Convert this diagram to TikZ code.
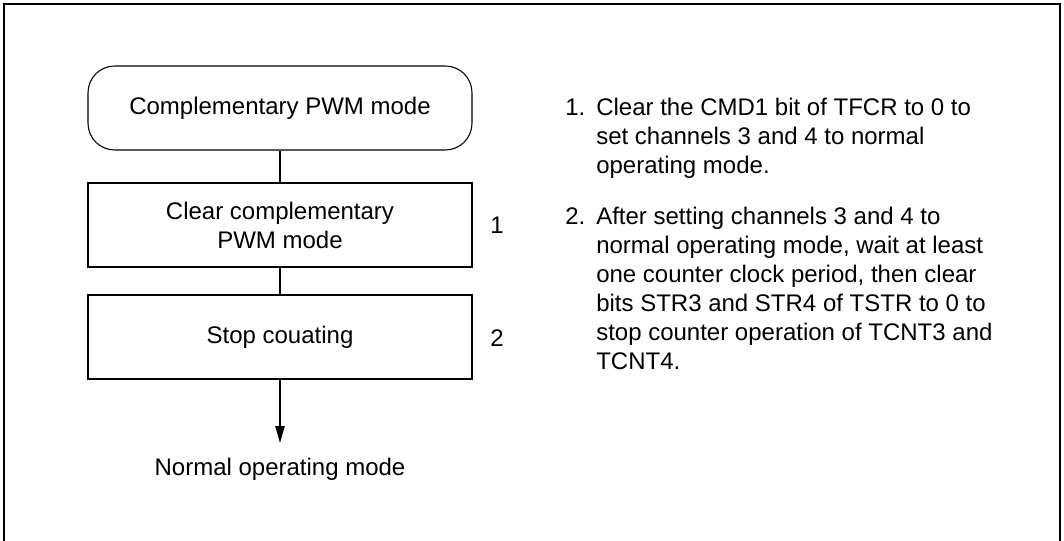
\documentclass[tikz,border=0pt]{standalone}
\usepackage{fontspec}
\setmainfont{Liberation Sans}
\usetikzlibrary{arrows.meta}
\newcommand{\twolines}[1]{\vtop{#1}}
\begin{document}
\begin{tikzpicture}[x=0.75pt,y=-0.75pt,
  every node/.style={font=\fontsize{18}{21.75}\selectfont},
  line/.style={line width=0.8pt},
  term/.style={draw,line width=0.8pt,rounded corners=20pt,minimum width=288pt,minimum height=63pt},
  proc/.style={draw,line width=0.8pt,minimum width=288pt,minimum height=63pt,align=center},
  plain/.style={inner sep=0pt,anchor=base west}]
\useasboundingbox (0,0) rectangle (1064,541);
\draw[line] (4,4) rectangle (1060,620);
\node[term] (t) at (280,108) {Complementary PWM mode};
\node[proc] (b1) at (280,225) {Clear complementary\\PWM mode};
\node[proc] (b2) at (280,337) {Stop couating};
\node[anchor=base] (end) at (280,475) {Normal operating mode};
\draw[line] (t) -- (b1);
\draw[line] (b1) -- (b2);
\draw[line,-{Triangle[length=12.5pt,width=7pt]},shorten >=7.5pt] (b2) -- (end);
\node[anchor=center] (n1) at (497,225) {1};
\node[anchor=center] (n2) at (497,338) {2};
\node[plain] (i1) at (565,116) {1.};
\node[plain] (t1) at (596,116) {\twolines{\hbox{Clear the CMD1 bit of TFCR to 0 to}\hbox{set channels 3 and 4 to normal}\hbox{operating mode.}}};
\node[plain] (i2) at (565,225) {2.};
\node[plain] (t2) at (596,225) {\twolines{\hbox{After setting channels 3 and 4 to}\hbox{normal operating mode, wait at least}\hbox{one counter clock period, then clear}\hbox{bits STR3 and STR4 of TSTR to 0 to}\hbox{stop counter operation of TCNT3 and}\hbox{TCNT4.}}};
\end{tikzpicture}
\end{document}
